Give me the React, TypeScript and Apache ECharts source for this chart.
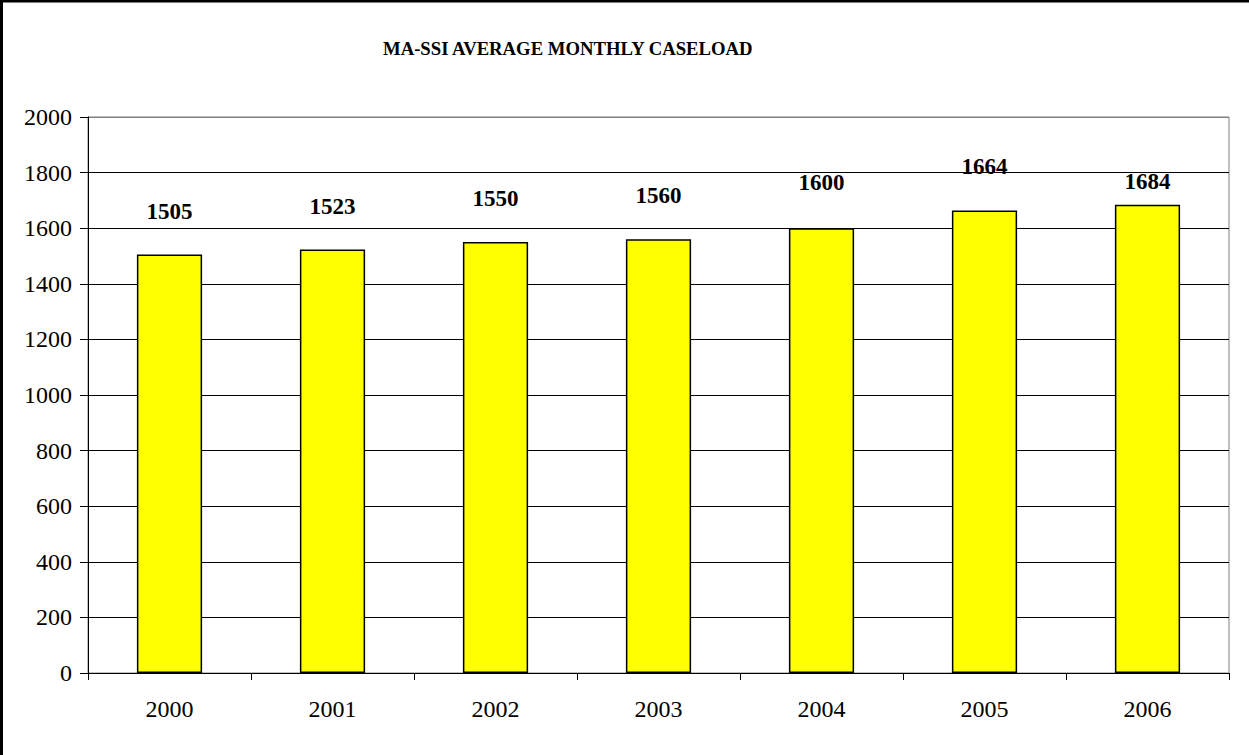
import React, { useEffect, useRef } from "react";
import * as echarts from "echarts";

const title = "MA-SSI AVERAGE MONTHLY CASELOAD";
const years = ["2000", "2001", "2002", "2003", "2004", "2005", "2006"];
const caseload = [1505, 1523, 1550, 1560, 1600, 1664, 1684];
const labelDistance = [32, 32, 32, 32, 34, 32, 12];

export default function App() {
  const ref = useRef<HTMLDivElement>(null);
  useEffect(() => {
    document.body.style.margin = "0";
    const chart = echarts.init(ref.current!, null, { renderer: "svg" });
    const font = "Liberation Serif";
    const gridColors = ["#000", "#000", "#000", "#000", "#000", "#000", "#000", "#000", "#000", "#000", "#808080"];
    chart.setOption({
      animation: false,
      backgroundColor: "#ffffff",
      title: {
        text: title,
        left: 378,
        top: 34,
        textStyle: { fontFamily: font, fontWeight: "bold", fontSize: 18.7, color: "#000" },
      },
      graphic: [
        { type: "line", shape: { x1: 0, y1: 1, x2: 1249, y2: 1 }, style: { stroke: "#000", lineWidth: 3 } },
        { type: "line", shape: { x1: 1.5, y1: 0, x2: 1.5, y2: 755 }, style: { stroke: "#000", lineWidth: 3 } },
      ],
      grid: { left: 88, right: 20, top: 117, bottom: 82, show: true, borderColor: "#808080", borderWidth: 1 },
      xAxis: {
        type: "category",
        data: years,
        axisLine: { lineStyle: { color: "#000", width: 1 } },
        axisTick: { show: true, length: 7, lineStyle: { color: "#000" } },
        axisLabel: { fontFamily: font, fontSize: 24, color: "#000", margin: 24 },
      },
      yAxis: {
        type: "value",
        min: 0,
        max: 2000,
        interval: 200,
        axisLine: { show: true, lineStyle: { color: "#000", width: 1 } },
        axisTick: { show: true, length: 8, lineStyle: { color: "#000" } },
        axisLabel: { fontFamily: font, fontSize: 24, color: "#000", margin: 16, formatter: (v: number) => String(v) },
        splitLine: { show: true, lineStyle: { color: gridColors, width: 1 } },
      },
      series: [
        {
          type: "bar",
          barWidth: "40%",
          data: caseload.map((v, i) => ({
            value: v,
            label: { distance: labelDistance[i] },
          })),
          itemStyle: { color: "#FFFF00", borderColor: "#000", borderWidth: 1.5 },
          label: {
            show: true,
            position: "top",
            fontFamily: font,
            fontWeight: "bold",
            fontSize: 23,
            color: "#000",
          },
        },
      ],
    });
    return () => chart.dispose();
  }, []);
  return <div ref={ref} style={{ width: 1249, height: 755 }} />;
}
